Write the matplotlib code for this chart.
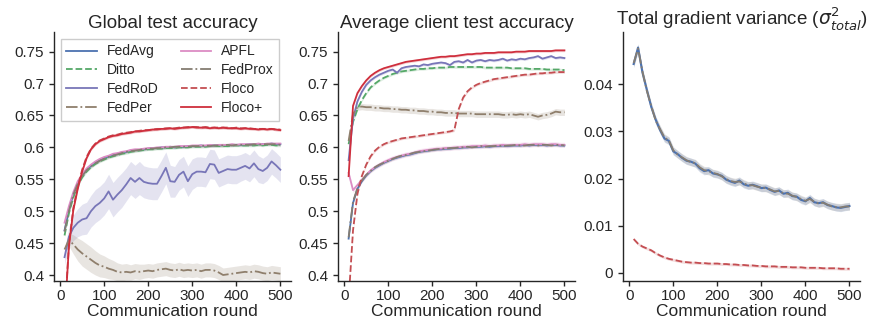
import numpy as np
import matplotlib
matplotlib.use("Agg")
import matplotlib.pyplot as plt
from matplotlib.ticker import FuncFormatter, FixedLocator

rounds = list(range(10, 501, 10))
methods = ["FedAvg", "Ditto", "FedRoD", "FedPer", "APFL", "FedProx", "Floco", "Floco+"]

# ---------------- Global test accuracy ----------------
g_fedavg = [0.470,0.502,0.527,0.544,0.556,0.565,0.571,0.576,0.580,0.583,
            0.586,0.588,0.590,0.592,0.593,0.595,0.596,0.596,0.597,0.598,
            0.599,0.599,0.600,0.600,0.601,0.600,0.601,0.601,0.602,0.602,
            0.602,0.603,0.602,0.603,0.603,0.603,0.604,0.603,0.604,0.604,
            0.604,0.604,0.605,0.604,0.605,0.605,0.605,0.606,0.605,0.605]
g_ditto = [0.462,0.497,0.522,0.540,0.553,0.562,0.569,0.574,0.578,0.581,
           0.584,0.586,0.588,0.590,0.591,0.593,0.594,0.595,0.596,0.597,
           0.597,0.598,0.598,0.599,0.599,0.599,0.600,0.600,0.600,0.601,
           0.601,0.601,0.601,0.602,0.602,0.602,0.602,0.602,0.603,0.603,
           0.603,0.603,0.603,0.603,0.604,0.603,0.604,0.604,0.603,0.603]
g_fedrod = [0.428,0.460,0.474,0.482,0.487,0.489,0.500,0.508,0.513,0.520,
            0.531,0.518,0.526,0.533,0.542,0.552,0.546,0.552,0.546,0.544,
            0.543,0.543,0.555,0.568,0.547,0.546,0.557,0.562,0.547,0.558,
            0.562,0.562,0.561,0.574,0.573,0.560,0.563,0.566,0.565,0.565,
            0.568,0.571,0.567,0.575,0.566,0.563,0.568,0.578,0.572,0.565]
g_fedper = [0.440,0.455,0.448,0.440,0.434,0.429,0.424,0.419,0.415,0.413,
            0.410,0.408,0.405,0.404,0.405,0.404,0.406,0.405,0.406,0.407,
            0.406,0.408,0.409,0.410,0.408,0.407,0.409,0.407,0.408,0.407,
            0.408,0.406,0.408,0.408,0.407,0.404,0.400,0.401,0.402,0.403,
            0.404,0.405,0.404,0.406,0.405,0.403,0.402,0.404,0.403,0.402]
g_apfl = [0.482,0.508,0.530,0.547,0.558,0.567,0.573,0.578,0.582,0.585,
          0.587,0.590,0.591,0.593,0.594,0.596,0.597,0.597,0.598,0.599,
          0.599,0.600,0.600,0.601,0.601,0.601,0.602,0.602,0.602,0.603,
          0.603,0.603,0.603,0.604,0.603,0.604,0.604,0.604,0.605,0.604,
          0.605,0.605,0.605,0.605,0.606,0.605,0.606,0.606,0.606,0.606]
g_fedprox = [0.468,0.500,0.526,0.543,0.555,0.564,0.570,0.575,0.579,0.582,
             0.585,0.587,0.589,0.591,0.593,0.594,0.595,0.596,0.597,0.598,
             0.598,0.599,0.599,0.600,0.600,0.601,0.601,0.601,0.601,0.602,
             0.602,0.602,0.603,0.602,0.603,0.603,0.603,0.604,0.603,0.604,
             0.604,0.604,0.604,0.605,0.604,0.605,0.605,0.605,0.605,0.604]
g_floco = [0.335,0.448,0.505,0.538,0.565,0.585,0.598,0.606,0.611,0.614,
           0.617,0.619,0.620,0.622,0.623,0.624,0.625,0.626,0.627,0.627,
           0.628,0.629,0.629,0.630,0.630,0.630,0.631,0.631,0.632,0.632,
           0.632,0.631,0.632,0.631,0.631,0.631,0.631,0.631,0.630,0.631,
           0.630,0.630,0.630,0.629,0.629,0.629,0.629,0.629,0.628,0.628]
g_floco_plus = [0.330,0.445,0.502,0.535,0.562,0.583,0.597,0.605,0.610,0.613,
                0.616,0.618,0.619,0.621,0.622,0.623,0.625,0.625,0.626,0.627,
                0.628,0.628,0.629,0.629,0.630,0.629,0.630,0.631,0.631,0.632,
                0.631,0.631,0.631,0.630,0.631,0.630,0.631,0.630,0.630,0.630,
                0.629,0.630,0.629,0.629,0.628,0.629,0.628,0.629,0.628,0.627]
g_fedrod_sd = [0.012,0.016,0.020,0.022,0.024,0.025,0.025,0.026,0.026,0.026,
               0.027,0.027,0.027,0.027,0.026,0.026,0.026,0.026,0.025,0.025,
               0.025,0.025,0.025,0.025,0.025,0.024,0.024,0.024,0.024,0.024,
               0.023,0.023,0.023,0.023,0.023,0.022,0.022,0.022,0.022,0.022,
               0.021,0.021,0.021,0.021,0.021,0.020,0.020,0.020,0.020,0.020]
g_fedper_sd = [0.006,0.010,0.015,0.018,0.020,0.020,0.020,0.019,0.018,0.017,
               0.016,0.015,0.014,0.013,0.013,0.012,0.012,0.012,0.011,0.011,
               0.011,0.011,0.011,0.011,0.011,0.011,0.011,0.011,0.011,0.011,
               0.011,0.011,0.011,0.011,0.011,0.011,0.011,0.011,0.011,0.011,
               0.011,0.011,0.011,0.011,0.011,0.011,0.011,0.011,0.011,0.011]

# ---------------- Average client test accuracy ----------------
c_fedavg = [0.457,0.513,0.535,0.547,0.556,0.563,0.568,0.572,0.576,0.579,
            0.582,0.584,0.586,0.588,0.589,0.591,0.593,0.594,0.595,0.596,
            0.597,0.597,0.598,0.598,0.599,0.599,0.600,0.600,0.601,0.601,
            0.601,0.602,0.601,0.602,0.602,0.603,0.602,0.603,0.603,0.603,
            0.604,0.603,0.604,0.604,0.604,0.603,0.604,0.604,0.603,0.603]
c_ditto = [0.605,0.640,0.660,0.674,0.685,0.694,0.700,0.705,0.709,0.712,
           0.715,0.717,0.719,0.720,0.721,0.722,0.723,0.723,0.724,0.724,
           0.725,0.725,0.725,0.726,0.726,0.726,0.726,0.726,0.726,0.726,
           0.726,0.725,0.725,0.725,0.725,0.725,0.725,0.724,0.724,0.724,
           0.724,0.723,0.723,0.723,0.723,0.722,0.722,0.722,0.722,0.721]
c_fedrod = [0.580,0.645,0.672,0.687,0.698,0.705,0.710,0.714,0.717,0.720,
            0.722,0.717,0.724,0.726,0.727,0.728,0.727,0.730,0.729,0.731,
            0.732,0.733,0.732,0.729,0.734,0.735,0.733,0.737,0.733,0.736,
            0.737,0.735,0.737,0.736,0.737,0.739,0.736,0.738,0.737,0.739,
            0.738,0.740,0.741,0.743,0.739,0.741,0.743,0.740,0.741,0.740]
c_fedper = [0.610,0.652,0.663,0.664,0.663,0.663,0.662,0.662,0.661,0.661,
            0.660,0.660,0.659,0.659,0.658,0.658,0.657,0.657,0.656,0.656,
            0.655,0.655,0.654,0.654,0.654,0.653,0.653,0.653,0.653,0.652,
            0.652,0.652,0.652,0.652,0.652,0.651,0.651,0.652,0.651,0.652,
            0.651,0.652,0.650,0.648,0.650,0.651,0.653,0.656,0.655,0.655]
c_apfl = [0.560,0.533,0.541,0.549,0.557,0.564,0.569,0.573,0.577,0.580,
          0.583,0.585,0.587,0.589,0.590,0.592,0.594,0.595,0.596,0.597,
          0.598,0.598,0.599,0.599,0.600,0.600,0.601,0.601,0.602,0.602,
          0.602,0.603,0.602,0.603,0.603,0.604,0.603,0.604,0.604,0.604,
          0.605,0.604,0.605,0.605,0.605,0.604,0.605,0.605,0.604,0.604]
c_fedprox = [0.459,0.515,0.536,0.548,0.557,0.563,0.569,0.573,0.576,0.579,
             0.582,0.585,0.587,0.588,0.590,0.592,0.593,0.594,0.595,0.596,
             0.597,0.598,0.598,0.599,0.599,0.600,0.600,0.601,0.600,0.601,
             0.602,0.601,0.602,0.602,0.603,0.602,0.603,0.603,0.604,0.603,
             0.603,0.604,0.604,0.603,0.604,0.604,0.603,0.604,0.604,0.603]
c_floco = [0.360,0.470,0.527,0.555,0.573,0.586,0.595,0.601,0.605,0.608,
           0.610,0.612,0.614,0.615,0.616,0.617,0.618,0.619,0.620,0.621,
           0.622,0.623,0.624,0.625,0.627,0.660,0.678,0.688,0.694,0.698,
           0.701,0.703,0.705,0.707,0.708,0.709,0.710,0.711,0.712,0.713,
           0.714,0.714,0.715,0.716,0.716,0.717,0.717,0.718,0.718,0.718]
c_floco_plus = [0.555,0.665,0.685,0.696,0.705,0.712,0.717,0.721,0.724,0.726,
                0.728,0.730,0.732,0.734,0.735,0.736,0.737,0.738,0.739,0.740,
                0.741,0.742,0.742,0.743,0.743,0.744,0.745,0.746,0.746,0.747,
                0.747,0.748,0.748,0.748,0.749,0.749,0.749,0.749,0.750,0.750,
                0.750,0.751,0.751,0.751,0.751,0.751,0.751,0.752,0.752,0.752]

# ---------------- Total gradient variance ----------------
v_fedavg = [0.0443,0.0478,0.0425,0.0388,0.0352,0.0325,0.0303,0.0285,0.0280,0.0258,
            0.0252,0.0244,0.0238,0.0236,0.0232,0.0222,0.0216,0.0218,0.0211,0.0209,
            0.0206,0.0198,0.0194,0.0191,0.0196,0.0188,0.0185,0.0187,0.0184,0.0180,
            0.0181,0.0176,0.0172,0.0175,0.0168,0.0170,0.0163,0.0162,0.0155,0.0152,
            0.0159,0.0150,0.0148,0.0150,0.0144,0.0142,0.0139,0.0138,0.0140,0.0142]
v_fedprox = [0.0445,0.0476,0.0427,0.0386,0.0354,0.0323,0.0305,0.0287,0.0281,0.0260,
             0.0251,0.0245,0.0239,0.0235,0.0233,0.0224,0.0218,0.0216,0.0212,0.0210,
             0.0205,0.0199,0.0195,0.0193,0.0194,0.0190,0.0186,0.0186,0.0183,0.0181,
             0.0180,0.0177,0.0173,0.0174,0.0169,0.0168,0.0164,0.0161,0.0157,0.0153,
             0.0157,0.0151,0.0147,0.0149,0.0145,0.0141,0.0140,0.0139,0.0141,0.0141]
v_floco = [0.0072,0.0062,0.0056,0.0052,0.0048,0.0042,0.0037,0.0033,0.0030,0.0028,
           0.0026,0.0024,0.0023,0.0022,0.0022,0.0021,0.0021,0.0020,0.0020,0.0020,
           0.0019,0.0019,0.0018,0.0018,0.0017,0.0017,0.0016,0.0016,0.0015,0.0015,
           0.0014,0.0014,0.0014,0.0013,0.0013,0.0013,0.0012,0.0012,0.0012,0.0011,
           0.0011,0.0011,0.0011,0.0010,0.0010,0.0010,0.0010,0.0009,0.0009,0.0009]

# scalar band half-widths
sd_small_acc = 0.002
sd_apfl_client = 0.004
sd_fedper_client = 0.005
sd_var_main = 0.0008
sd_var_floco = 0.0003

titles = ["Global test accuracy", "Average client test accuracy",
          r"Total gradient variance ($\sigma^2_{total}$)"]
xlabel = "Communication round"

styles = {
    "FedAvg":  dict(color="#4c72b0", ls="-"),
    "Ditto":   dict(color="#55a868", ls="--"),
    "FedRoD":  dict(color="#7876b8", ls="-"),
    "FedPer":  dict(color="#8f7f6c", ls="-."),
    "APFL":    dict(color="#dc8cc4", ls="-"),
    "FedProx": dict(color="#857d72", ls="-."),
    "Floco":   dict(color="#c44e52", ls="--"),
    "Floco+":  dict(color="#cf2f3d", ls="-"),
}

plt.rcParams.update({
    "font.family": ["Liberation Sans", "DejaVu Sans"],
    "text.color": "0.15",
    "axes.labelcolor": "0.15",
    "xtick.color": "0.15",
    "ytick.color": "0.15",
    "axes.edgecolor": "0.15",
    "axes.linewidth": 1.0,
    "xtick.major.size": 3.5,
    "ytick.major.size": 3.5,
    "xtick.major.width": 1.0,
    "ytick.major.width": 1.0,
    "mathtext.fontset": "dejavusans",
})

fig = plt.figure(figsize=(8.69, 3.26), dpi=100)
lefts = [0.0621, 0.389, 0.717]
axes = [fig.add_axes([l, 0.138, 0.2727, 0.764]) for l in lefts]

def draw(ax, name, y, sd, lw=1.3):
    st = styles[name]
    y = np.asarray(y, dtype=float)
    sd = np.asarray(sd, dtype=float)
    ax.fill_between(rounds, y - sd, y + sd, color=st["color"], alpha=0.2, lw=0)
    ax.plot(rounds, y, color=st["color"], ls=st["ls"], lw=lw, label=name)

# Panel 1
ax = axes[0]
draw(ax, "FedAvg", g_fedavg, sd_small_acc)
draw(ax, "Ditto", g_ditto, sd_small_acc)
draw(ax, "FedRoD", g_fedrod, g_fedrod_sd)
draw(ax, "FedPer", g_fedper, g_fedper_sd)
draw(ax, "APFL", g_apfl, sd_small_acc)
draw(ax, "FedProx", g_fedprox, sd_small_acc)
draw(ax, "Floco", g_floco, sd_small_acc)
draw(ax, "Floco+", g_floco_plus, sd_small_acc)

# Panel 2
ax = axes[1]
draw(ax, "FedAvg", c_fedavg, sd_small_acc)
draw(ax, "Ditto", c_ditto, sd_small_acc)
draw(ax, "FedRoD", c_fedrod, sd_small_acc)
draw(ax, "FedPer", c_fedper, sd_fedper_client)
draw(ax, "APFL", c_apfl, sd_apfl_client)
draw(ax, "FedProx", c_fedprox, sd_small_acc)
draw(ax, "Floco", c_floco, sd_small_acc)
draw(ax, "Floco+", c_floco_plus, sd_small_acc)

# Panel 3
ax = axes[2]
draw(ax, "FedAvg", v_fedavg, sd_var_main, lw=1.5)
draw(ax, "FedProx", v_fedprox, sd_var_main, lw=1.3)
draw(ax, "Floco", v_floco, sd_var_floco)

fmt = FuncFormatter(lambda v, p: "%g" % round(v, 4))
acc_ticks = [0.4, 0.45, 0.5, 0.55, 0.6, 0.65, 0.7, 0.75]
var_ticks = [0, 0.01, 0.02, 0.03, 0.04]
for i, ax in enumerate(axes):
    ax.set_xlim(-14, 524)
    ax.xaxis.set_major_locator(FixedLocator([0, 100, 200, 300, 400, 500]))
    if i < 2:
        ax.set_ylim(0.3906, 0.7809)
        ax.yaxis.set_major_locator(FixedLocator(acc_ticks))
    else:
        ax.set_ylim(-0.0017, 0.0511)
        ax.yaxis.set_major_locator(FixedLocator(var_ticks))
    ax.yaxis.set_major_formatter(fmt)
    ax.tick_params(labelsize=11, pad=3.5)
    ax.tick_params(axis="x", pad=2.5)
    ax.spines["top"].set_visible(False)
    ax.spines["right"].set_visible(False)
    ax.set_title(titles[i], fontsize=13.5, pad=2)
    ax.set_xlabel(xlabel, fontsize=12.5, labelpad=0.5)

axes[0].legend(ncol=2, loc="upper left", bbox_to_anchor=(0.0, 1.0),
               fontsize=10, handlelength=2.2, handletextpad=0.7,
               columnspacing=1.6, labelspacing=0.35, borderpad=0.4,
               frameon=True, fancybox=False, edgecolor="0.8", framealpha=1)

fig.savefig("out.png", dpi=100)
